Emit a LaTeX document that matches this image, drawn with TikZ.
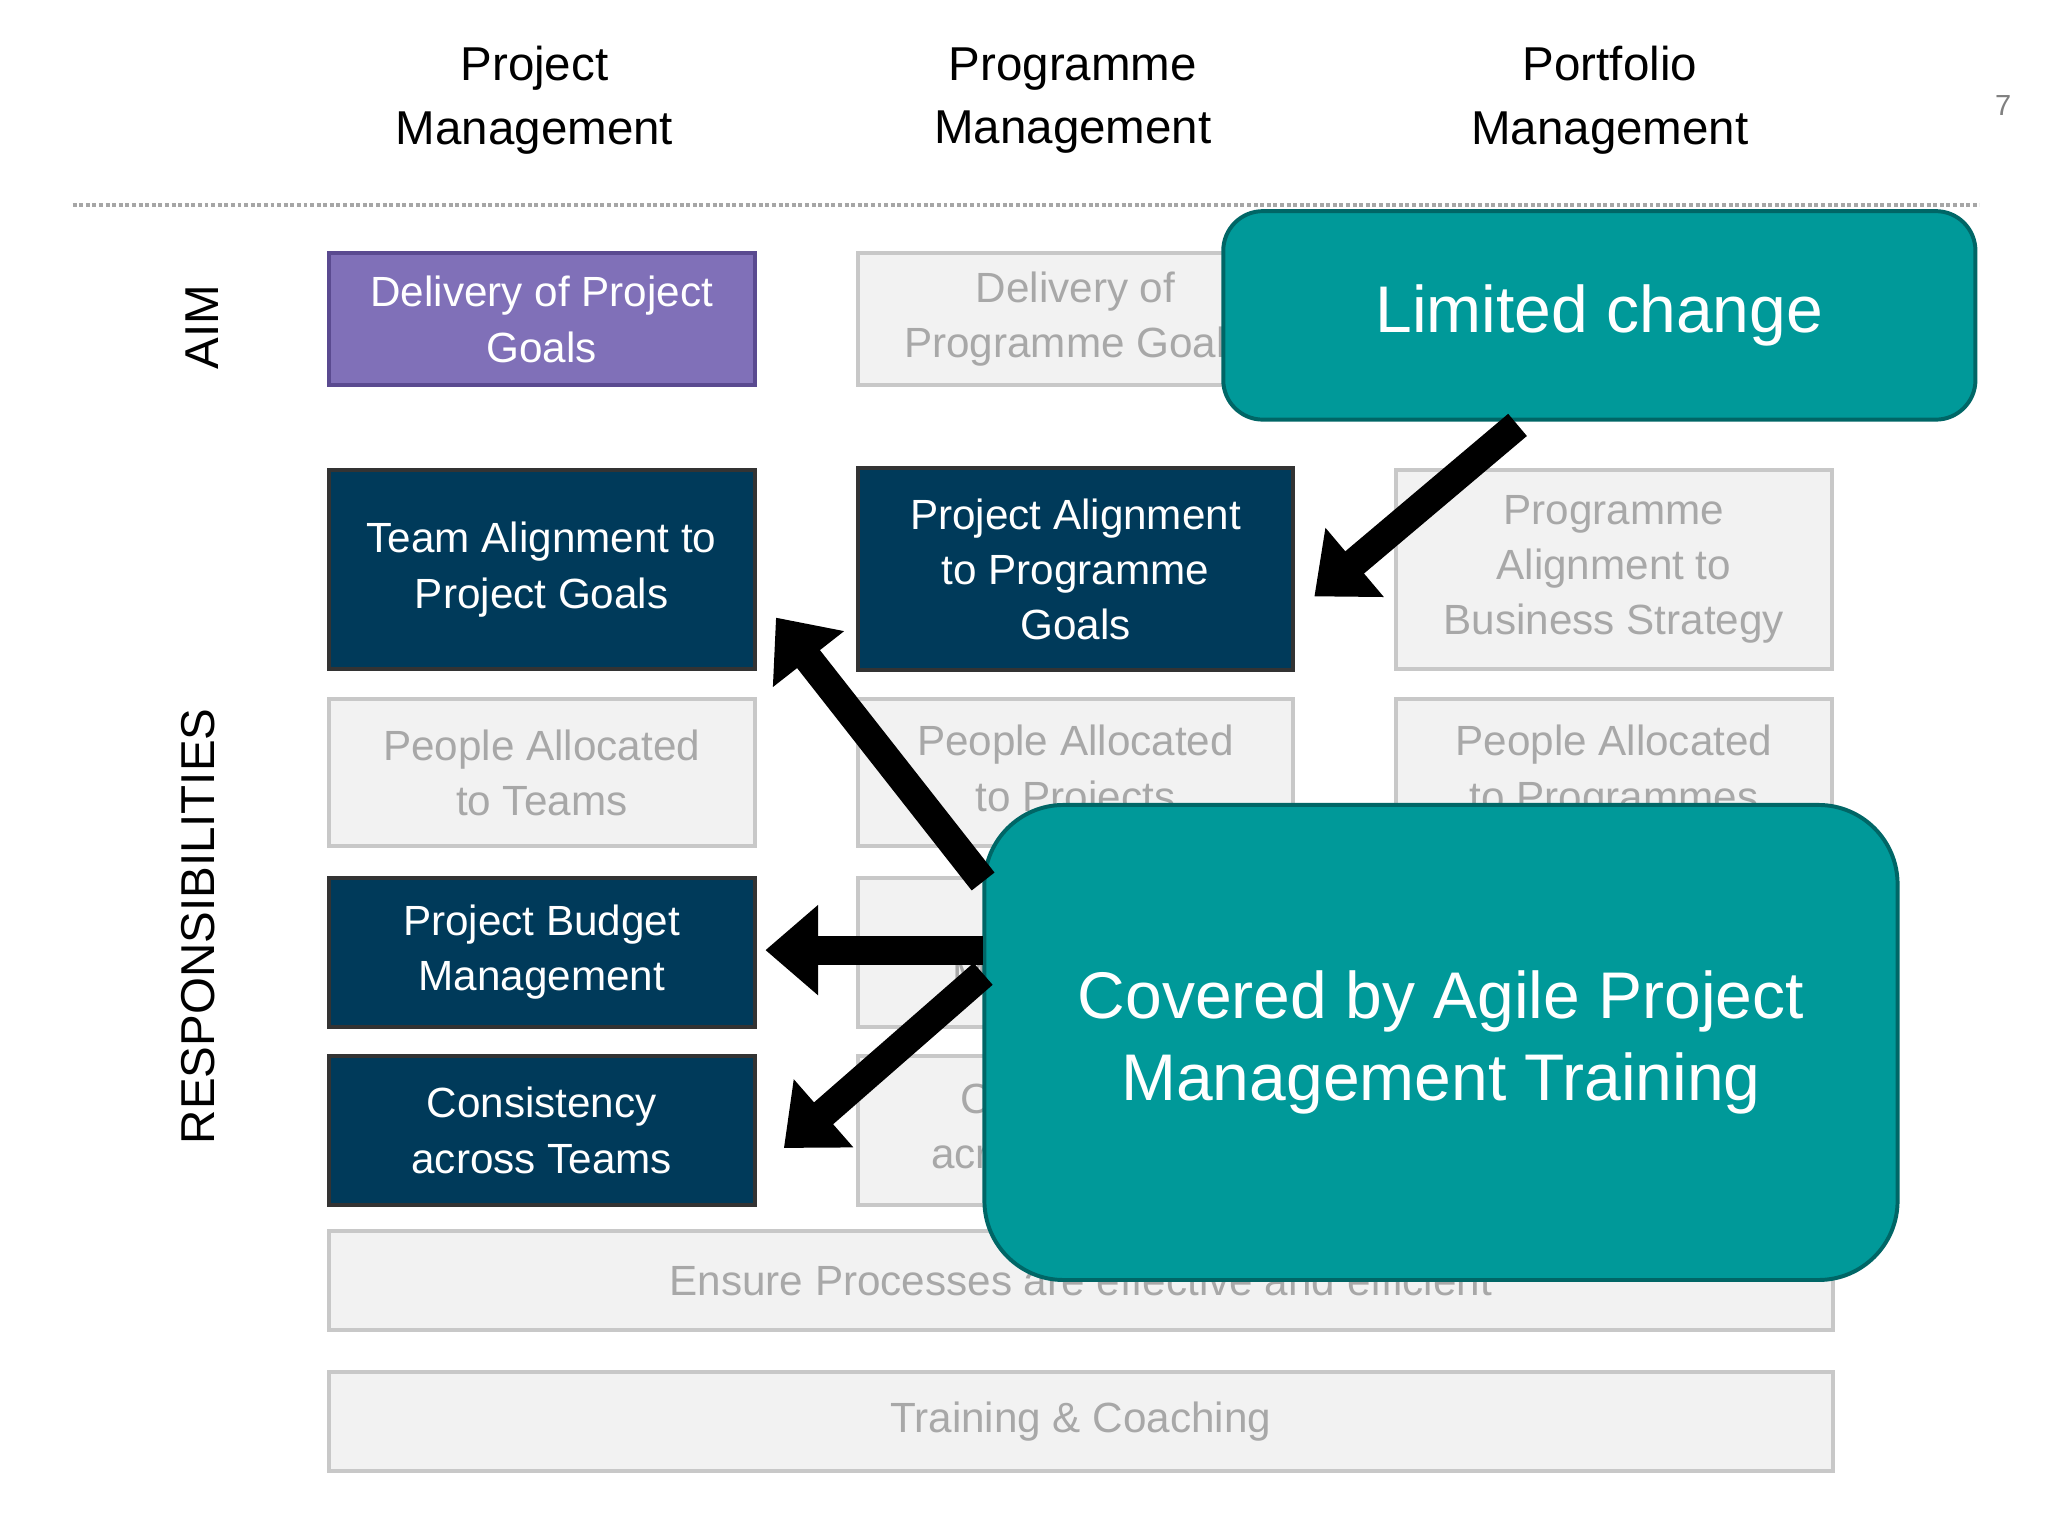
\documentclass[tikz,border=0pt]{standalone}
\usepackage{fontspec}
\setmainfont{Liberation Sans}
\usetikzlibrary{arrows.meta}
\definecolor{dk}{HTML}{003A5A}
\definecolor{pu}{HTML}{8070B8}
\definecolor{pub}{HTML}{5A4A90}
\definecolor{lg}{HTML}{F2F2F2}
\definecolor{lgb}{HTML}{C8C8C8}
\definecolor{lgt}{HTML}{A8A8A8}
\definecolor{tl}{HTML}{009999}
\definecolor{tlb}{HTML}{006666}
\begin{document}
\begin{tikzpicture}[x=1pt,y=-1pt,
 bx/.style={draw,line width=3pt,inner sep=0,align=center,font=\fontsize{32}{42}\selectfont},
 darkbox/.style={bx,fill=dk,draw=black!80,text=white},
 greybox/.style={bx,fill=lg,draw=lgb,text=lgt},
 teal/.style={draw=tlb,line width=3pt,fill=tl,text=white,rounded corners=30pt,align=center},
 hd/.style={align=center,font=\fontsize{36}{48}\selectfont},
 big/.style={line width=22pt,-{Triangle[length=40pt,width=66pt]}}]
\useasboundingbox (0,0) rectangle (1552,1164);
\fill[white] (0,0) rectangle (1552,1164);
\node[hd] (h1) at (405,76) {Project\\Management};
\node[hd] (h2) at (813,76) {Programme\\Management};
\node[hd] (h3) at (1220,76) {Portfolio\\Management};
\node[text=gray,font=\fontsize{22}{26}\selectfont] (pg) at (1518,80) {7};
\draw[gray!70,line width=3pt,dotted] (55,155) -- (1500,155);
\node[rotate=90,font=\fontsize{36}{40}\selectfont] (aim) at (153,248) {AIM};
\node[rotate=90,font=\fontsize{36}{40}\selectfont] (resp) at (150,702) {RESPONSIBILITIES};
\node[bx,fill=pu,draw=pub,text=white,minimum width=323pt,minimum height=100pt] (a1) at (410.5,242) {Delivery of Project\\Goals};
\node[greybox,minimum width=330pt,minimum height=100pt] (a2) at (815,242) {Delivery of\\Programme Goals};
\node[darkbox,minimum width=323pt,minimum height=151pt] (r11) at (410.5,431.5) {Team Alignment to\\Project Goals};
\node[darkbox,minimum width=330pt,minimum height=153pt] (r12) at (815,431.5) {Project Alignment\\to Programme\\Goals};
\node[greybox,minimum width=330pt,minimum height=151pt] (r13) at (1223,431.5) {Programme\\Alignment to\\Business Strategy};
\node[greybox,minimum width=323pt,minimum height=111pt] (r21) at (410.5,585.5) {People Allocated\\to Teams};
\node[greybox,minimum width=330pt,minimum height=111pt] (r22) at (815,585.5) {People Allocated\\to Projects};
\node[greybox,minimum width=330pt,minimum height=111pt] (r23) at (1223,585.5) {People Allocated\\to Programmes};
\node[darkbox,minimum width=323pt,minimum height=113pt] (r31) at (410.5,721.5) {Project Budget\\Management};
\node[greybox,minimum width=330pt,minimum height=113pt] (r32) at (815,721.5) {Budget\\Management};
\node[darkbox,minimum width=323pt,minimum height=113pt] (r41) at (410.5,856.5) {Consistency\\across Teams};
\node[greybox,minimum width=330pt,minimum height=113pt] (r42) at (815,856.5) {Consistency\\across Projects};
\node[greybox,minimum width=1140pt,minimum height=75pt] (w1) at (819,970.5) {Ensure Processes are effective and efficient};
\node[greybox,minimum width=1140pt,minimum height=75pt] (w2) at (819,1077.5) {Training \& Coaching};
\node[teal,minimum width=570pt,minimum height=158pt,font=\fontsize{50}{60}\selectfont] (t1) at (1212,239) {Limited change};
\node[teal,rounded corners=60pt,minimum width=692pt,minimum height=360pt,font=\fontsize{50}{62}\selectfont] (t2) at (1092,790) {Covered by Agile Project\\Management Training};
\coordinate (s1) at (1150,322);
\coordinate (e1) at (996,452);
\coordinate (s2) at (745,668);
\coordinate (e2) at (588,468);
\coordinate (s3) at (745,720);
\coordinate (e3) at (580,720);
\coordinate (s4) at (745,738);
\coordinate (e4) at (594,870);
\draw[big] (s1) -- (e1);
\draw[big] (s2) -- (e2);
\draw[big] (s3) -- (e3);
\draw[big] (s4) -- (e4);
\end{tikzpicture}
\end{document}
